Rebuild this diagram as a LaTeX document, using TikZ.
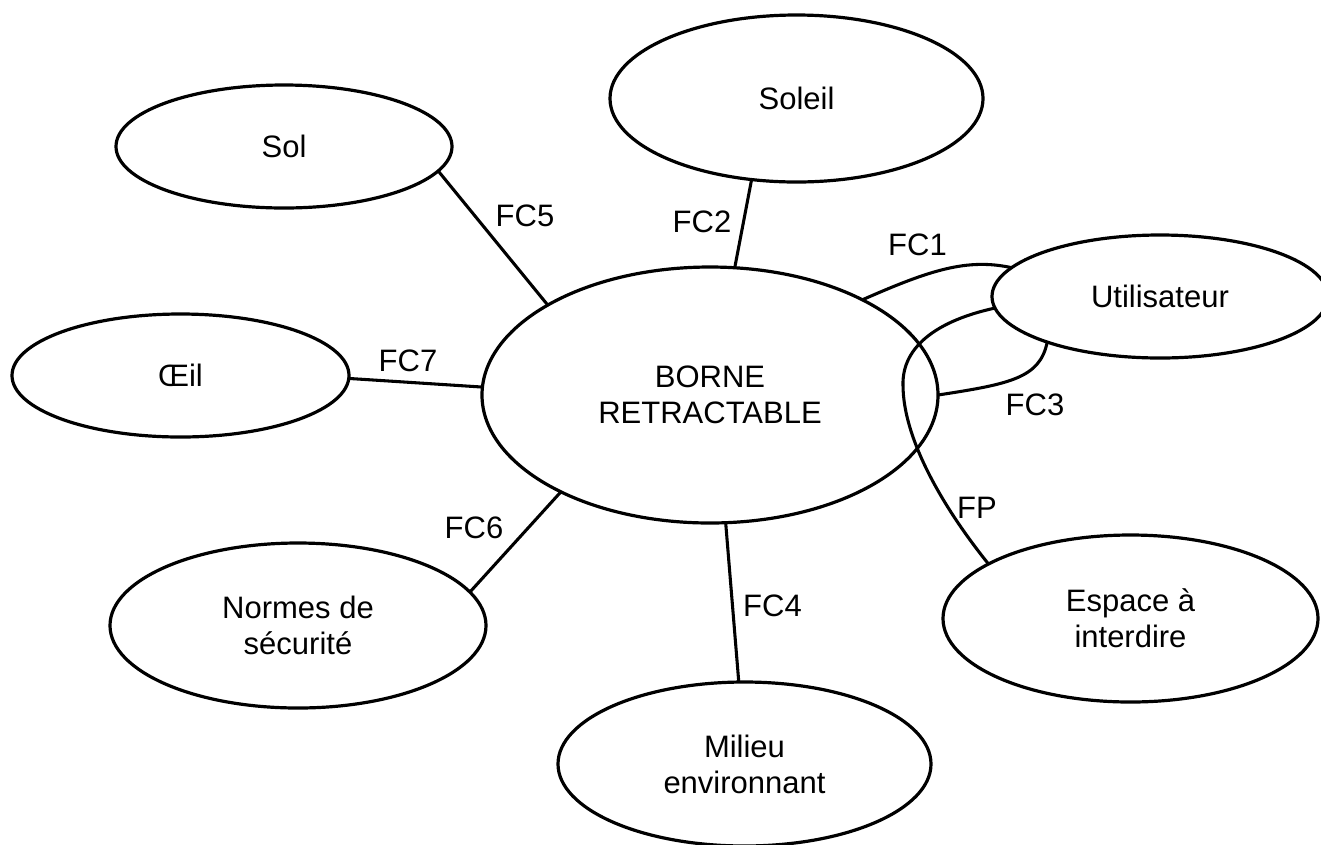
\documentclass[tikz,border=0pt]{standalone}
\usepackage{fontspec}
\setmainfont{Liberation Sans}
\usetikzlibrary{shapes.geometric}

\tikzset{
  txt/.style={font=\fontsize{23.25pt}{27pt}\selectfont, align=center},
  bubble/.style 2 args={ellipse, draw, line width=2.4pt, fill=white,
    minimum width=#1*1.5pt, minimum height=#2*1.5pt,
    inner sep=0pt, outer sep=0pt, txt},
  link/.style={line width=2.3pt},
  tag/.style={txt, inner sep=0pt}
}

\begin{document}
\begin{tikzpicture}[x=0.75pt, y=-0.75pt]
  \useasboundingbox (0,0) rectangle (1321,844);

  % the product in the middle and its surroundings
  \node[bubble={228}{128}] (borne) at (710,395) {BORNE\\RETRACTABLE};
  \node[bubble={168}{61.5}] (sol) at (284,146.5) {Sol};
  \node[bubble={186.5}{83.5}] (soleil) at (796.5,98.5) {Soleil};
  \node[bubble={168.5}{61.5}] (oeil) at (180.5,375.5) {Œil};
  \node[bubble={168}{61.5}] (util) at (1160,296.5) {Utilisateur};
  \node[bubble={187.5}{83.5}] (espace) at (1130.5,618.5) {Espace à\\interdire};
  \node[bubble={188}{82.5}] (normes) at (298,625.5) {Normes de\\sécurité};
  \node[bubble={186.5}{82}] (milieu) at (744.5,764) {Milieu\\environnant};

  % straight functions
  \draw[link] (sol.-9.3) -- (borne.151.4);
  \draw[link] (soleil.-119.7) -- (borne.79.8);
  \draw[link] (oeil.-1.2) -- (borne.178.5);
  \draw[link] (borne.-147.7) -- (normes.11.7);
  \draw[link] (borne.-83.8) -- (milieu.94.5);

  % curved functions round the user
  \draw[link] (borne.32.5) .. controls (930,270) and (967,258) .. (util.169.4);
  \draw[link] (util.-158.3) .. controls (1040,378) and (1010,384) .. (borne.0.2);
  \draw[link] (util.-176.1) .. controls (940,320) and (902,345) .. (903,385)
                            .. controls (903,440) and (945,510) .. (espace.159.8);

  % function labels
  \node[tag] (fc5) at (525,216) {FC5};
  \node[tag] (fc2) at (702,222) {FC2};
  \node[tag] (fc1) at (917.5,245) {FC1};
  \node[tag] (fc3) at (1035,405) {FC3};
  \node[tag] (fp) at (977,508) {FP};
  \node[tag] (fc7) at (408,361) {FC7};
  \node[tag] (fc6) at (474,528) {FC6};
  \node[tag] (fc4) at (772.5,606) {FC4};
\end{tikzpicture}
\end{document}
